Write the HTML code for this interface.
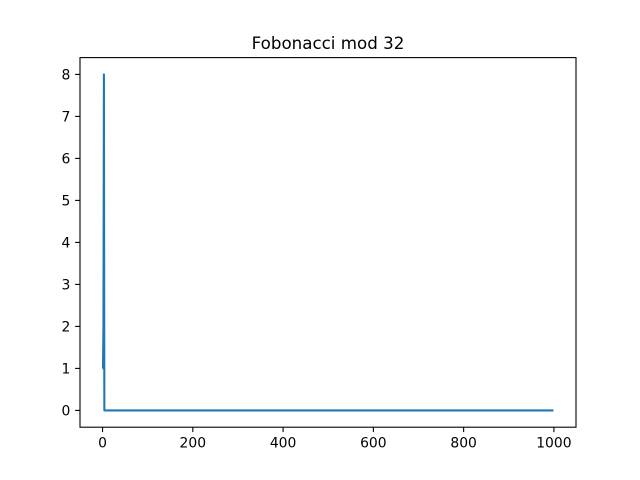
<!DOCTYPE html>
<html><head><meta charset="utf-8"><style>body{margin:0;background:#fff}svg{display:block;font-family:"DejaVu Sans","Liberation Sans",sans-serif}</style></head>
<body>
<svg id="c" width="640" height="480"></svg>
<script>
const headValues = [1, 1, 2, 8];
const tailZeros = new Array(996).fill(0);
const values = headValues.concat(tailZeros);
const xTicks = [0, 200, 400, 600, 800, 1000];
const yTicks = [0, 1, 2, 3, 4, 5, 6, 7, 8];
const title = "Fobonacci mod 32";

const L=80,R=576,T=57.6,B=427.2;
const xmin=-49.95,xmax=1048.95,ymin=-0.4,ymax=8.4;
const sx=v=>L+(v-xmin)/(xmax-xmin)*(R-L);
const sy=v=>B-(v-ymin)/(ymax-ymin)*(B-T);
const svg=document.getElementById('c');
const NS='http://www.w3.org/2000/svg';
function mk(t,a){const e=document.createElementNS(NS,t);for(const k in a)e.setAttribute(k,a[k]);svg.appendChild(e);return e;}
let d='';
values.forEach((v,i)=>{d+=(i?'L':'M')+sx(i).toFixed(2)+','+sy(v).toFixed(2);});
const line=mk('path',{d:d,fill:'none',stroke:'#1f77b4','stroke-width':2.08,'stroke-linejoin':'round'});


const frame=mk('rect',{x:L,y:T,width:R-L,height:B-T,fill:'none',stroke:'#000','stroke-width':1.1});


xTicks.forEach(v=>{
  const x=sx(v);
  const tk=mk('line',{x1:x,x2:x,y1:B,y2:B+4.9,stroke:'#000','stroke-width':1.1});
  
  
  const t=mk('text',{x:x,y:B+20.5,'text-anchor':'middle','font-size':13.9});
  t.textContent=v;
  
  
});
yTicks.forEach(v=>{
  const y=sy(v);
  const tk=mk('line',{x1:L-4.9,x2:L,y1:y,y2:y,stroke:'#000','stroke-width':1.1});
  
  
  const t=mk('text',{x:L-9.7,y:y+5,'text-anchor':'end','font-size':13.9});
  t.textContent=v;
  
  
});
const tt=mk('text',{x:(L+R)/2,y:T-8.5,'text-anchor':'middle','font-size':16.7});
tt.textContent=title;


</script>
</body></html>
